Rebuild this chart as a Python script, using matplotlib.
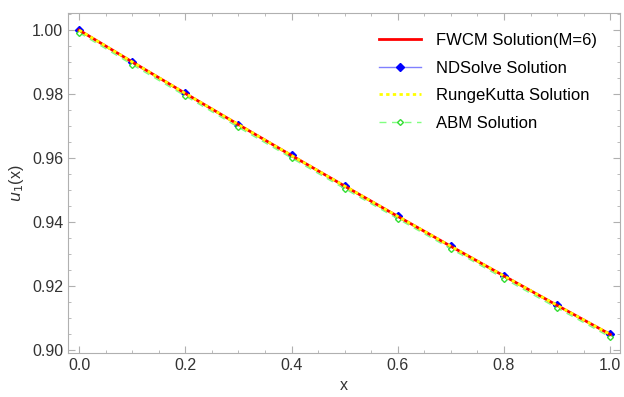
import matplotlib.pyplot as plt
from matplotlib.ticker import MultipleLocator

plt.rcParams['font.family'] = ['Liberation Sans', 'DejaVu Sans']

x = [0.0, 0.1, 0.2, 0.3, 0.4, 0.5, 0.6, 0.7, 0.8, 0.9, 1.0]
fwcm = [1.0, 0.99005, 0.98020, 0.97045, 0.96079, 0.95123, 0.94176, 0.93239, 0.92312, 0.91393, 0.90484]
ndsolve = [1.0, 0.99005, 0.98020, 0.97045, 0.96079, 0.95123, 0.94176, 0.93239, 0.92312, 0.91393, 0.90484]
rk = [1.0, 0.99005, 0.98020, 0.97045, 0.96079, 0.95123, 0.94176, 0.93239, 0.92312, 0.91393, 0.90484]
abm = [0.9992, 0.9892, 0.9794, 0.9696, 0.9600, 0.9504, 0.9410, 0.9316, 0.9223, 0.9131, 0.9040]

fig = plt.figure(figsize=(6.24, 3.97), dpi=100)
ax = fig.add_axes([0.109, 0.111, 0.885, 0.856])

ax.plot(x, fwcm, color='red', lw=2, label='FWCM Solution(M=6)', zorder=3)
ax.plot(x, ndsolve, color='#8080ff', lw=1, marker='D', ms=4.5, mfc='blue', mec='blue',
        label='NDSolve Solution', zorder=2)
ax.plot(x, rk, color='yellow', lw=2, ls=(0, (1.2, 1.2)), label='RungeKutta Solution', zorder=4)
ax.plot(x, abm, color='#80ff80', lw=1, ls=(0, (5, 4)), marker='D', ms=3, mfc='white',
        mec='#33dd33', mew=1, label='ABM Solution', zorder=2)

ax.set_xlim(-0.0207, 1.0188)
ax.set_ylim(0.89906, 1.0053)
ax.xaxis.set_major_locator(MultipleLocator(0.2))
ax.xaxis.set_minor_locator(MultipleLocator(0.05))
ax.yaxis.set_major_locator(MultipleLocator(0.02))
ax.yaxis.set_minor_locator(MultipleLocator(0.005))
ax.xaxis.set_major_formatter(plt.FormatStrFormatter('%.1f'))
ax.yaxis.set_major_formatter(plt.FormatStrFormatter('%.2f'))

for s in ax.spines.values():
    s.set_color('#b0b0b0')
ax.tick_params(which='both', direction='in', top=True, right=True, color='#b0b0b0',
               labelsize=11.5, labelcolor='#333333')
ax.tick_params(which='major', length=5)
ax.tick_params(which='minor', length=2.5)

ax.set_xlabel('x', fontsize=11.5, color='#333333')
ax.set_ylabel('$u_1$(x)', fontsize=11.5, color='#333333')

ax.legend(loc='upper right', frameon=False, fontsize=12, handlelength=2.5,
          handletextpad=0.9, bbox_to_anchor=(0.985, 0.985), labelspacing=0.75)

plt.savefig('out.png', dpi=100)
